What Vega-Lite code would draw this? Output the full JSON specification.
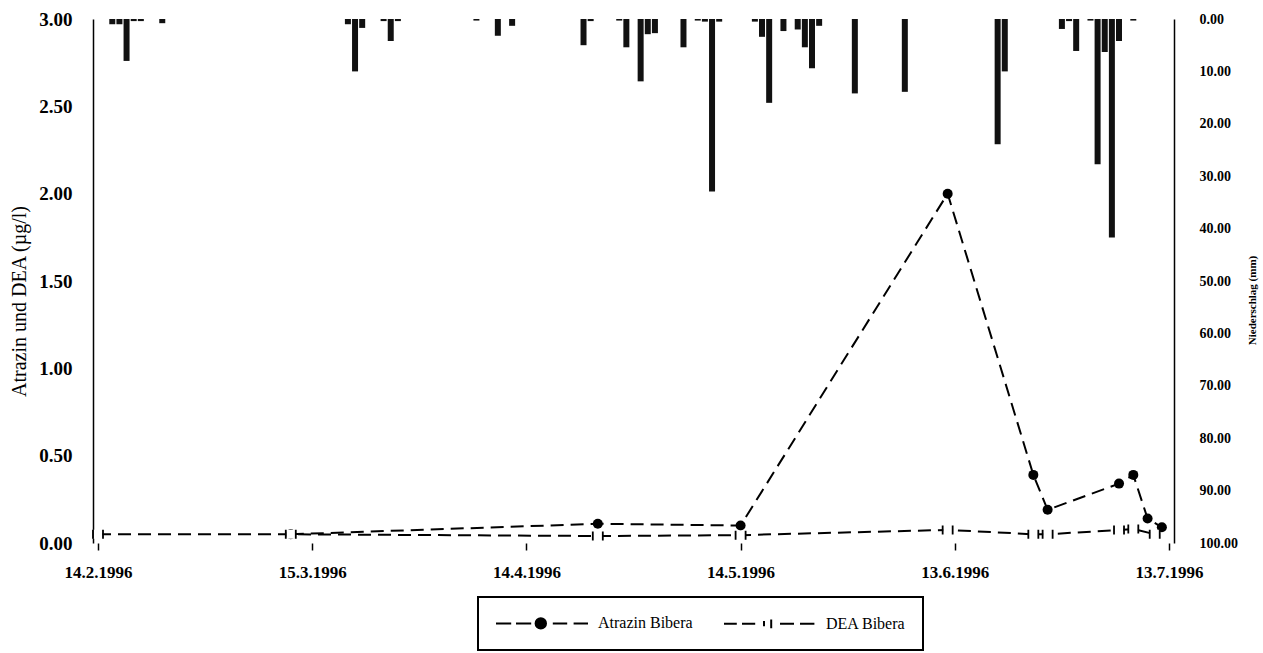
{
  "$schema": "https://vega.github.io/schema/vega-lite/v6.json",
  "width": 1081,
  "height": 524,
  "autosize": "none",
  "padding": {"left": 93, "top": 19, "right": 89, "bottom": 110},
  "background": "white",
  "config": {
    "view": {"stroke": null},
    "font": "Liberation Serif",
    "axis": {"grid": false, "labelFont": "Liberation Serif", "titleFont": "Liberation Serif", "labelColor": "black", "titleColor": "black"}
  },
  "encoding": {
    "x": {
      "field": "date",
      "type": "temporal",
      "scale": {"type": "utc", "domain": [{"year": 1996, "month": "feb", "date": 14, "utc": true}, {"year": 1996, "month": "jul", "date": 13, "utc": true}]},
      "axis": {
        "title": null,
        "domain": false,
        "ticks": true,
        "tickSize": 7,
        "tickWidth": 1.5,
        "tickColor": "black",
        "labelPadding": 14,
        "labelFontSize": 17,
        "labelFontWeight": "bold",
        "labelOverlap": false,
        "labelFlush": false,
        "format": "%-d.%-m.%Y",
        "values": [
          {"year": 1996, "month": "feb", "date": 14, "utc": true},
          {"year": 1996, "month": "mar", "date": 15, "utc": true},
          {"year": 1996, "month": "apr", "date": 14, "utc": true},
          {"year": 1996, "month": "may", "date": 14, "utc": true},
          {"year": 1996, "month": "jun", "date": 13, "utc": true},
          {"year": 1996, "month": "jul", "date": 13, "utc": true}
        ]
      }
    }
  },
  "layer": [
    {
      "data": {"values": [
        {"date": "1996-02-16", "mm": 1.0},
        {"date": "1996-02-17", "mm": 1.0},
        {"date": "1996-02-18", "mm": 8.0},
        {"date": "1996-02-19", "mm": 0.4},
        {"date": "1996-02-20", "mm": 0.4},
        {"date": "1996-02-23", "mm": 0.8},
        {"date": "1996-03-20", "mm": 1.0},
        {"date": "1996-03-21", "mm": 10.0},
        {"date": "1996-03-22", "mm": 1.7},
        {"date": "1996-03-25", "mm": 0.4},
        {"date": "1996-03-26", "mm": 4.2},
        {"date": "1996-03-27", "mm": 0.4},
        {"date": "1996-04-07", "mm": 0.3},
        {"date": "1996-04-10", "mm": 3.2},
        {"date": "1996-04-12", "mm": 1.3},
        {"date": "1996-04-22", "mm": 5.0},
        {"date": "1996-04-23", "mm": 0.4},
        {"date": "1996-04-27", "mm": 0.3},
        {"date": "1996-04-28", "mm": 5.4},
        {"date": "1996-04-30", "mm": 11.9},
        {"date": "1996-05-01", "mm": 2.9},
        {"date": "1996-05-02", "mm": 2.7},
        {"date": "1996-05-06", "mm": 5.4},
        {"date": "1996-05-08", "mm": 0.3},
        {"date": "1996-05-09", "mm": 0.5},
        {"date": "1996-05-10", "mm": 32.9},
        {"date": "1996-05-11", "mm": 0.5},
        {"date": "1996-05-16", "mm": 0.5},
        {"date": "1996-05-17", "mm": 3.4},
        {"date": "1996-05-18", "mm": 16.0},
        {"date": "1996-05-20", "mm": 2.3},
        {"date": "1996-05-22", "mm": 2.0},
        {"date": "1996-05-23", "mm": 5.4},
        {"date": "1996-05-24", "mm": 9.4},
        {"date": "1996-05-25", "mm": 1.3},
        {"date": "1996-05-30", "mm": 14.2},
        {"date": "1996-06-06", "mm": 13.9},
        {"date": "1996-06-19", "mm": 23.9},
        {"date": "1996-06-20", "mm": 10.0},
        {"date": "1996-06-28", "mm": 1.9},
        {"date": "1996-06-29", "mm": 0.4},
        {"date": "1996-06-30", "mm": 6.1},
        {"date": "1996-07-02", "mm": 0.3},
        {"date": "1996-07-03", "mm": 27.7},
        {"date": "1996-07-04", "mm": 6.3},
        {"date": "1996-07-05", "mm": 41.7},
        {"date": "1996-07-06", "mm": 4.2},
        {"date": "1996-07-08", "mm": 0.3}
      ]},
      "mark": {"type": "bar", "width": 6, "color": "#111111"},
      "encoding": {
        "y": {
          "field": "mm",
          "type": "quantitative",
          "scale": {"domain": [0, 100], "reverse": true},
          "axis": {
            "orient": "right",
            "values": [0, 10, 20, 30, 40, 50, 60, 70, 80, 90, 100],
            "format": ".2f",
            "ticks": false,
            "domain": true,
            "domainColor": "black",
            "domainWidth": 1.5,
            "labelFontSize": 14,
            "labelFontWeight": "bold",
            "labelPadding": 25,
            "title": "Niederschlag (mm)",
            "titleFontSize": 11,
            "titleFontWeight": "bold",
            "titleAngle": -90,
            "titleX": 78,
            "titleY": 281,
            "titleAlign": "center",
            "titleBaseline": "middle"
          }
        }
      }
    },
    {
      "data": {"values": [
        {"date": "1996-03-12", "series": "Atrazin Bibera", "value": 0.05},
        {"date": "1996-04-24", "series": "Atrazin Bibera", "value": 0.11},
        {"date": "1996-05-14", "series": "Atrazin Bibera", "value": 0.10},
        {"date": "1996-06-12", "series": "Atrazin Bibera", "value": 2.00},
        {"date": "1996-06-24", "series": "Atrazin Bibera", "value": 0.39},
        {"date": "1996-06-26", "series": "Atrazin Bibera", "value": 0.19},
        {"date": "1996-07-06", "series": "Atrazin Bibera", "value": 0.34},
        {"date": "1996-07-08", "series": "Atrazin Bibera", "value": 0.39},
        {"date": "1996-07-10", "series": "Atrazin Bibera", "value": 0.14},
        {"date": "1996-07-12", "series": "Atrazin Bibera", "value": 0.09},
        {"date": "1996-02-14", "series": "DEA Bibera", "value": 0.05},
        {"date": "1996-03-12", "series": "DEA Bibera", "value": 0.05},
        {"date": "1996-04-24", "series": "DEA Bibera", "value": 0.04},
        {"date": "1996-05-14", "series": "DEA Bibera", "value": 0.045},
        {"date": "1996-06-12", "series": "DEA Bibera", "value": 0.075},
        {"date": "1996-06-24", "series": "DEA Bibera", "value": 0.05},
        {"date": "1996-06-26", "series": "DEA Bibera", "value": 0.05},
        {"date": "1996-07-06", "series": "DEA Bibera", "value": 0.075},
        {"date": "1996-07-08", "series": "DEA Bibera", "value": 0.08},
        {"date": "1996-07-11", "series": "DEA Bibera", "value": 0.05}
      ]},
      "encoding": {
        "y": {
          "field": "value",
          "type": "quantitative",
          "scale": {"domain": [0, 3]},
          "axis": {
            "orient": "left",
            "values": [0, 0.5, 1, 1.5, 2, 2.5, 3],
            "format": ".2f",
            "ticks": false,
            "domain": true,
            "domainColor": "black",
            "domainWidth": 1.5,
            "labelFontSize": 19,
            "labelFontWeight": "bold",
            "labelPadding": 21,
            "title": "Atrazin und DEA (µg/l)",
            "titleFontSize": 20,
            "titleFontWeight": "normal",
            "titleAngle": -90,
            "titleX": -74,
            "titleY": 282,
            "titleAlign": "center",
            "titleBaseline": "middle"
          }
        }
      },
      "layer": [
        {
          "mark": {"type": "line", "strokeDash": [13, 7], "strokeWidth": 2},
          "encoding": {
            "color": {
              "field": "series",
              "type": "nominal",
              "scale": {"domain": ["Atrazin Bibera", "DEA Bibera"], "range": ["black", "black"]},
              "legend": {
                "orient": "none",
                "legendX": 385,
                "legendY": 578,
                "direction": "horizontal",
                "columns": 2,
                "title": null,
                "strokeColor": "black",
                "padding": 17,
                "symbolSize": 256,
                "labelOffset": 85,
                "labelFont": "Liberation Serif",
                "labelFontSize": 16,
                "labelColor": "black",
                "columnPadding": 27,
                "labelLimit": 0,
                "encode": {
                  "symbols": {"update": {
                    "shape": {"signal": "datum.value === 'Atrazin Bibera' ? 'M-1,0L0.9,0M1.5,0L3.4,0M3.95,0A0.65,0.65,0,1,0,5.25,0A0.65,0.65,0,1,0,3.95,0ZM6.1,0L7.9,0M8.7,0L10.5,0' : 'M-1,0L0.6,0M1.25,0L2.9,0M4,-0.35L4,0.3M4.9,-0.55L4.9,0.55M6,0L7.75,0M8.5,0L10.3,0'"},
                    "fill": {"value": "black"},
                    "stroke": {"value": "black"},
                    "strokeWidth": {"value": 2},
                    "strokeDash": {"value": []},
                    "opacity": {"value": 1}
                  }},
                  "legend": {"update": {"strokeWidth": {"value": 2}}}
                }
              }
            }
          }
        },
        {
          "transform": [{"filter": "datum.series === 'Atrazin Bibera'"}],
          "mark": {"type": "point", "shape": "circle", "filled": true, "size": 100, "color": "black", "opacity": 1}
        },
        {
          "transform": [{"filter": "datum.series === 'DEA Bibera'"}],
          "mark": {"type": "point", "shape": "square", "filled": true, "size": 80, "color": "white", "opacity": 1}
        },
        {
          "transform": [{"filter": "datum.series === 'DEA Bibera'"}],
          "mark": {"type": "point", "shape": "M-1,-0.9L-1,0.9M1,-0.9L1,0.9", "filled": false, "size": 100, "color": "black", "strokeWidth": 1.8, "opacity": 1}
        }
      ]
    }
  ],
  "resolve": {"scale": {"y": "independent"}, "axis": {"y": "independent"}}
}
